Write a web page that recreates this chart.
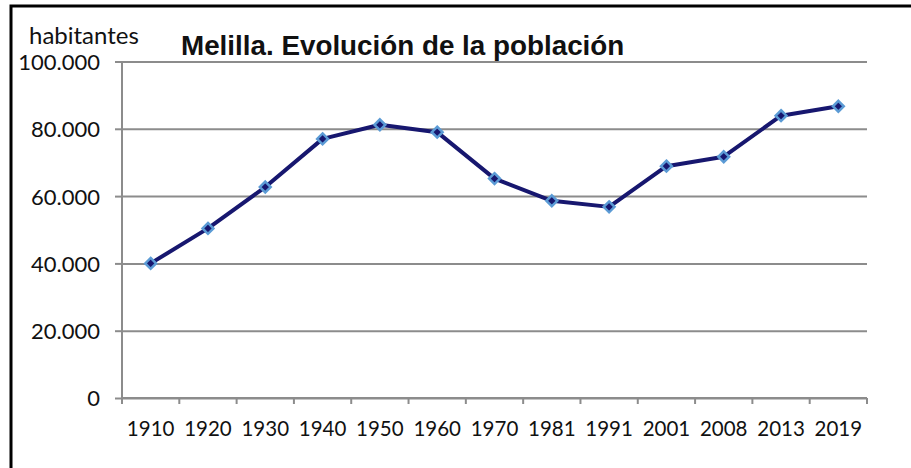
<!DOCTYPE html>
<html>
<head>
<meta charset="utf-8">
<script src="https://cdn.jsdelivr.net/npm/d3@7"></script>
<style>
  body { margin: 0; background: #fff; }
  .tick-label { font-family: Lato, "Open Sans", sans-serif; fill: #111; }
</style>
</head>
<body>
<div id="chart"></div>
<script>
// population of Melilla
const years = ["1910", "1920", "1930", "1940", "1950", "1960", "1970", "1981", "1991", "2001", "2008", "2013", "2019"];
const population = [40000, 50400, 62700, 77000, 81200, 79000, 65200, 58600, 56800, 68900, 71700, 83900, 86700];
const yTicks = [0, 20000, 40000, 60000, 80000, 100000];

const width = 911;
const height = 468;
const margin = { top: 61.5, right: 44, bottom: 70, left: 122 };

const svg = d3
  .select("#chart")
  .append("svg")
  .attr("width", width)
  .attr("height", height);

// outer frame, cut at the right and bottom like the screenshot
svg
  .append("rect")
  .attr("x", 11)
  .attr("y", 6)
  .attr("width", width + 20)
  .attr("height", height + 20)
  .attr("fill", "none")
  .attr("stroke", "#000")
  .attr("stroke-width", 3);

const xScale = d3
  .scaleBand()
  .domain(years)
  .range([margin.left, width - margin.right]);

const yScale = d3
  .scaleLinear()
  .domain([0, 100000])
  .range([height - margin.bottom, margin.top]);

const formatThousands = d => (d === 0 ? "0" : d3.format(",")(d).replace(/,/g, "."));

// y grid + labels
const yAxis = svg
  .append("g")
  .attr("transform", "translate(" + margin.left + ",0)")
  .call(
    d3
      .axisLeft(yScale)
      .tickValues(yTicks)
      .tickSize(-(width - margin.right - margin.left))
      .tickSizeOuter(0)
      .tickFormat(formatThousands)
  );
yAxis.select(".domain").remove();
yAxis.selectAll("line").attr("stroke", "#8c8c8c").attr("stroke-width", 2);
// short tick marks left of the axis
yAxis
  .selectAll(".tick")
  .append("line")
  .attr("x1", -7)
  .attr("x2", 0)
  .attr("stroke", "#8c8c8c")
  .attr("stroke-width", 2);
yAxis
  .selectAll("text")
  .attr("class", "tick-label")
  .attr("x", -22)
  .attr("dy", "0.36em")
  .style("font-size", "22px");

// vertical axis line
svg
  .append("line")
  .attr("x1", margin.left)
  .attr("x2", margin.left)
  .attr("y1", yScale(100000))
  .attr("y2", yScale(0) + 6)
  .attr("stroke", "#8c8c8c")
  .attr("stroke-width", 2);

// x axis: ticks between categories, labels centered
const xAxis = svg
  .append("g")
  .attr("transform", "translate(0," + yScale(0) + ")");
xAxis
  .append("line")
  .attr("x1", margin.left)
  .attr("x2", width - margin.right)
  .attr("stroke", "#8c8c8c")
  .attr("stroke-width", 2);
xAxis
  .selectAll(".xtick")
  .data(years.concat(["end"]))
  .enter()
  .append("line")
  .attr("x1", (d, i) => (i < years.length ? xScale(d) : xScale.range()[1]))
  .attr("x2", (d, i) => (i < years.length ? xScale(d) : xScale.range()[1]))
  .attr("y1", 0)
  .attr("y2", 6)
  .attr("stroke", "#8c8c8c")
  .attr("stroke-width", 2);
xAxis
  .selectAll(".xlabel")
  .data(years)
  .enter()
  .append("text")
  .attr("class", "tick-label")
  .attr("x", d => xScale(d) + xScale.bandwidth() / 2)
  .attr("y", 38)
  .attr("text-anchor", "middle")
  .style("font-size", "20.5px")
  .text(d => d);

// the line
const points = years.map((y, i) => ({ year: y, value: population[i] }));
const line = d3
  .line()
  .x(d => xScale(d.year) + xScale.bandwidth() / 2)
  .y(d => yScale(d.value));

svg
  .append("path")
  .datum(points)
  .attr("d", line)
  .attr("fill", "none")
  .attr("stroke", "#17176f")
  .attr("stroke-width", 4)
  .attr("stroke-linejoin", "round");

svg
  .selectAll(".marker")
  .data(points)
  .enter()
  .append("path")
  .attr("d", d3.symbol(d3.symbolDiamond2, 75))
  .attr("transform", d => "translate(" + (xScale(d.year) + xScale.bandwidth() / 2) + "," + yScale(d.value) + ")")
  .attr("fill", "#17176f")
  .attr("stroke", "#5b9bd5")
  .attr("stroke-width", 2.5);

// titles
svg
  .append("text")
  .attr("class", "tick-label")
  .attr("x", 29)
  .attr("y", 44)
  .style("font-size", "24px")
  .text("habitantes");

svg
  .append("text")
  .attr("x", 181)
  .attr("y", 55)
  .style("font-family", "'Liberation Sans', Arial, sans-serif")
  .style("font-weight", "bold")
  .style("font-size", "27.8px")
  .attr("fill", "#111")
  .text("Melilla. Evolución de la población");
</script>
</body>
</html>
